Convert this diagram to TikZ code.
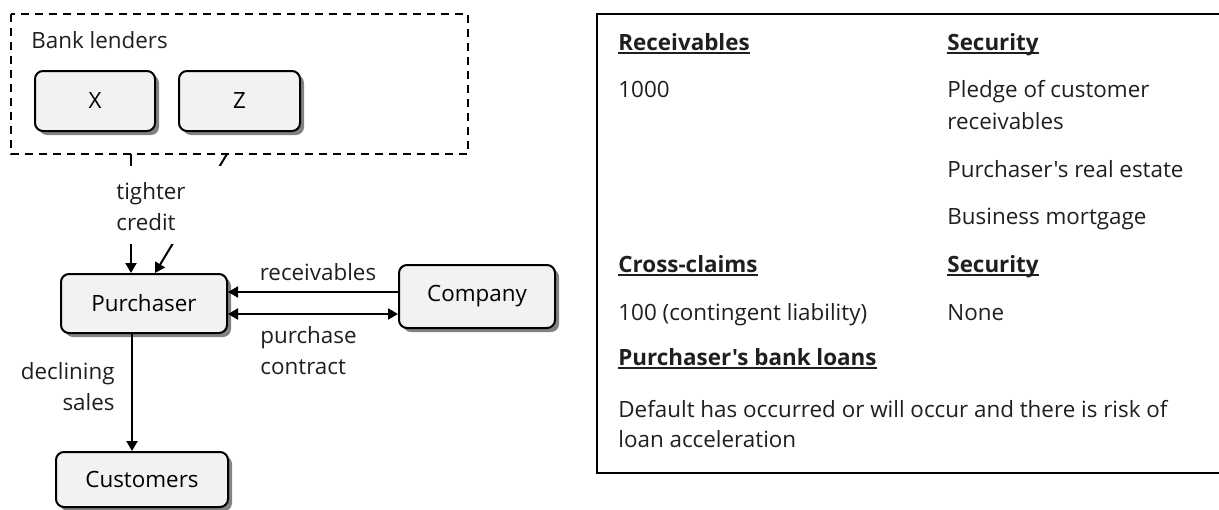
\documentclass[tikz,border=0pt]{standalone}
\usepackage{fontspec}
\setmainfont{Open Sans}[Ligatures=TeXOff]
\usepackage{tikz}
\usetikzlibrary{arrows.meta,shadows}
\definecolor{boxfill}{RGB}{242,242,242}
\definecolor{shade}{RGB}{130,130,130}
\newlength{\hdwd}
\newcommand{\hd}[1]{\settowidth{\hdwd}{\textbf{#1}}\textbf{#1}\hspace{-\hdwd}\rule[-2pt]{\hdwd}{0.9pt}}
\tikzset{
  party/.style={draw,line width=1pt,rounded corners=4pt,fill=boxfill,inner sep=0pt,
    drop shadow={shadow xshift=2pt,shadow yshift=-2pt,fill=shade,opacity=1}},
  flow/.style={line width=1pt,-{Triangle[length=5pt,width=5.5pt]}},
  both/.style={line width=1pt,{Triangle[length=5pt,width=5.5pt]}-{Triangle[length=5pt,width=5.5pt]}},
  lbl/.style={inner sep=0pt,text=black!88}
}

\begin{document}
\begin{tikzpicture}[x=0.5pt,y=-0.5pt,font=\fontsize{11.2}{15.5}\selectfont]
                \useasboundingbox (0,0) rectangle (1219,509);
                % bank lenders
                \draw[line width=0.75pt,dash pattern=on 4pt off 3pt] (11,14) rectangle (468,154);
                \node[lbl,anchor=base west] (banks) at (31,48) {Bank lenders};
                \node[party,minimum width=60pt,minimum height=30pt] (x) at (95,101) {X};
                \node[party,minimum width=60.5pt,minimum height=30pt] (z) at (239.5,101) {Z};
                \node[party,minimum width=83pt,minimum height=29.5pt] (purchaser) at (144,303.5) {Purchaser};
                \node[party,minimum width=78pt,minimum height=31.5pt] (company) at (477,296.5) {Company};
                \node[party,minimum width=86pt,minimum height=27.5pt] (customers) at (142,479.5) {Customers};

                \coordinate (xout) at (131,154);
                \coordinate (zout) at (227,154);
                \coordinate (recv) at (300,292);
                \coordinate (contract) at (300,314);
                \coordinate (decl) at (132,400);

                \draw[flow] (xout) -- (purchaser.north -| xout);
                \draw[flow] (zout) -- ([xshift=5.5pt]purchaser.north);
                \fill[white] (112,166) rectangle (222,244);
                \node[lbl,align=left,anchor=north west] (credit) at (116,182) {tighter\\credit};

                \draw[flow] (company.west |- recv) -- (purchaser.east |- recv);
                \draw[both] (purchaser.east |- contract) -- (company.west |- contract);
                \node[lbl,anchor=base] (recvlbl) at (318,280) {receivables};
                \node[lbl,align=left,anchor=north west] (contractlbl) at (260,326) {purchase\\contract};

                \draw[flow] (purchaser.south -| decl) -- (customers.north -| decl);
                \node[lbl,align=right,anchor=north east] (sales) at (115,362) {declining\\sales};

                % claims panel
                \draw[line width=1pt] (1225,14) -- (597,14) -- (597,473) -- (1225,473);
                \node[lbl,anchor=base west] (rechd) at (618,50) {\hd{Receivables}};
                \node[lbl,anchor=base west] (sechd) at (947,50) {\hd{Security}};
                \node[lbl,anchor=base west] (recamt) at (618,97) {1000};
                \node[lbl,anchor=base west] (sec1) at (947,97) {Pledge of customer};
                \node[lbl,anchor=base west] (sec1b) at (947,129) {receivables};
                \node[lbl,anchor=base west] (sec2) at (947,177) {Purchaser's real estate};
                \node[lbl,anchor=base west] (sec3) at (947,224) {Business mortgage};
                \node[lbl,anchor=base west] (crosshd) at (618,272) {\hd{Cross-claims}};
                \node[lbl,anchor=base west] (sechdb) at (947,272) {\hd{Security}};
                \node[lbl,anchor=base west] (crossamt) at (618,320) {100 (contingent liability)};
                \node[lbl,anchor=base west] (secnone) at (947,320) {None};
                \node[lbl,anchor=base west] (loanhd) at (618,365) {\hd{Purchaser's bank loans}};
                \node[lbl,anchor=base west] (loan1) at (618,417) {Default has occurred or will occur and there is risk of};
                \node[lbl,anchor=base west] (loan2) at (618,447) {loan acceleration};
\end{tikzpicture}
\end{document}
